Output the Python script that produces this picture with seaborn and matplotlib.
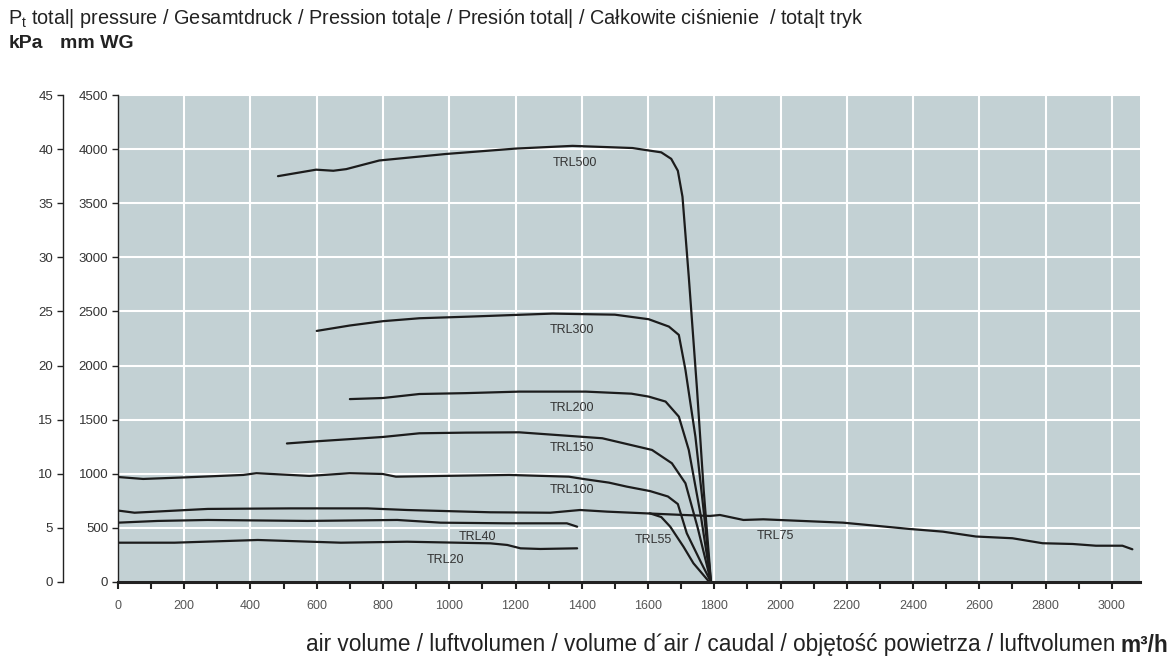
import matplotlib
matplotlib.use("Agg")
import numpy as np
import pandas as pd
import seaborn as sns
import matplotlib.pyplot as plt
from matplotlib.ticker import MultipleLocator

# curves: air volume (m3/h) vs total pressure (mm WG)
trl500_x = [483, 598, 650, 689, 789, 990, 1201, 1372, 1553, 1640, 1670, 1690, 1704, 1723, 1748, 1768, 1790]
trl500_y = [3750, 3810, 3800, 3815, 3895, 3955, 4005, 4030, 4010, 3970, 3910, 3800, 3560, 2820, 1775, 850, 0]
trl300_x = [600, 700, 800, 910, 1060, 1311, 1500, 1602, 1663, 1693, 1713, 1743, 1770, 1790]
trl300_y = [2320, 2370, 2410, 2437, 2452, 2480, 2470, 2428, 2360, 2283, 1959, 1343, 600, 0]
trl200_x = [700, 800, 910, 1050, 1211, 1412, 1550, 1602, 1653, 1693, 1723, 1760, 1790]
trl200_y = [1690, 1700, 1737, 1745, 1759, 1759, 1740, 1713, 1667, 1528, 1220, 600, 0]
trl150_x = [510, 600, 700, 800, 910, 1050, 1211, 1462, 1612, 1672, 1713, 1750, 1790]
trl150_y = [1280, 1300, 1320, 1340, 1374, 1380, 1383, 1328, 1220, 1097, 912, 500, 0]
trl100_x = [0, 76, 207, 378, 418, 578, 699, 799, 839, 980, 1181, 1361, 1411, 1482, 1536, 1606, 1660, 1690, 1717, 1760, 1790]
trl100_y = [970, 952, 967, 989, 1005, 980, 1005, 998, 973, 980, 989, 973, 949, 918, 881, 840, 790, 720, 450, 180, 0]
trl75_x = [0, 50, 271, 522, 753, 873, 1124, 1305, 1395, 1476, 1587, 1700, 1787, 1817, 1888, 1948, 2189, 2389, 2490, 2590, 2700, 2791, 2882, 2952, 3032, 3062]
trl75_y = [660, 640, 675, 680, 680, 665, 644, 640, 665, 650, 635, 620, 610, 619, 573, 579, 548, 490, 465, 420, 404, 358, 351, 335, 335, 302]
trl55_x = [1605, 1640, 1667, 1707, 1737, 1785]
trl55_y = [635, 600, 511, 326, 173, 0]
trl40_x = [0, 120, 271, 572, 843, 974, 1175, 1355, 1386]
trl40_y = [548, 564, 573, 564, 573, 548, 542, 542, 511]
trl20_x = [0, 171, 422, 673, 873, 1124, 1175, 1215, 1275, 1386]
trl20_y = [363, 363, 388, 363, 372, 357, 342, 311, 305, 311]

names = ["TRL500", "TRL300", "TRL200", "TRL150", "TRL100", "TRL75", "TRL55", "TRL40", "TRL20"]
xs = [trl500_x, trl300_x, trl200_x, trl150_x, trl100_x, trl75_x, trl55_x, trl40_x, trl20_x]
ys = [trl500_y, trl300_y, trl200_y, trl150_y, trl100_y, trl75_y, trl55_y, trl40_y, trl20_y]

# where the curve names sit
label_x = [1380, 1370, 1370, 1370, 1370, 1985, 1615, 1085, 990]
label_y = [3870, 2330, 1605, 1235, 850, 425, 390, 415, 205]

df = pd.concat([pd.DataFrame({"model": n, "airflow": x, "pressure": y}) for n, x, y in zip(names, xs, ys)])

sns.set_theme(style="darkgrid", rc={"axes.facecolor": "#c3d1d4", "grid.color": "white",
                                    "grid.linewidth": 1.5, "axes.edgecolor": "#222222"})
plt.rcParams["font.family"] = ["Liberation Sans", "DejaVu Sans"]

fig = plt.figure(figsize=(11.75, 6.57), dpi=100)
ax = fig.add_axes([0.1004, 0.1142, 0.8698, 0.7412])

for n in names:
    d = df[df["model"] == n]
    sns.lineplot(data=d, x="airflow", y="pressure", sort=False, estimator=None,
                 color="#1c1c1c", lw=1.6, ax=ax, solid_capstyle="round")

for n, lx, ly in zip(names, label_x, label_y):
    ax.text(lx, ly, n, fontsize=9, color="#333333", ha="center", va="center")

ax.set_xlim(0, 3085)
ax.set_ylim(0, 4500)
ax.xaxis.set_major_locator(MultipleLocator(200))
ax.xaxis.set_minor_locator(MultipleLocator(100))
ax.yaxis.set_major_locator(MultipleLocator(500))
ax.grid(which="minor", visible=False)
ax.set_xlabel("")
ax.set_ylabel("")
for s in ["top", "right"]:
    ax.spines[s].set_visible(False)
ax.spines["bottom"].set_linewidth(2.2)
ax.spines["left"].set_linewidth(1.0)
ax.tick_params(axis="x", which="both", bottom=True, direction="out", length=5, width=1.5,
               color="#222222", labelsize=9, labelcolor="#555555", pad=8)
ax.tick_params(axis="y", left=True, direction="out", length=4, width=1, color="#222222",
               labelsize=9.5, labelcolor="#333333", pad=3)

# kPa scale
ax2 = ax.twinx()
ax2.set_ylim(0, 45)
ax2.grid(False)
ax2.yaxis.set_major_locator(MultipleLocator(5))
ax2.yaxis.set_ticks_position("left")
ax2.yaxis.set_label_position("left")
for s in ["top", "right", "bottom"]:
    ax2.spines[s].set_visible(False)
ax2.spines["left"].set_visible(True)
ax2.spines["left"].set_position(("axes", -0.054))
ax2.spines["left"].set_linewidth(1.0)
ax2.spines["left"].set_color("#222222")
ax2.tick_params(axis="y", left=True, right=False, direction="out", length=4, width=1,
                color="#222222", labelsize=9.5, labelcolor="#333333", pad=3)

fig.text(0.007, 1 - 19 / 657, "P$_\\mathregular{t}$ total| pressure / Gesamtdruck / Pression tota|e / Presión total| / Całkowite ciśnienie  / tota|t tryk",
         fontsize=14.3, color="#222222", va="center", ha="left")
fig.text(0.007, 1 - 44 / 657, "kPa", fontsize=14, fontweight="bold", color="#222222",
         va="center", ha="left")
fig.text(60 / 1175, 1 - 44 / 657, "mm WG", fontsize=14, fontweight="bold", color="#222222",
         va="center", ha="left")

unit = fig.text(1168 / 1175, 1 - 645 / 657, "m³/h", fontsize=16.3, fontweight="bold",
                color="#222222", va="center", ha="right")
fig.canvas.draw()
bb = unit.get_window_extent()
fig.text((bb.x0 - 5) / 1175, 1 - 645 / 657,
         "air volume / luftvolumen / volume d´air / caudal / objętość powietrza / luftvolumen",
         fontsize=16.3, color="#222222", va="center", ha="right")

fig.savefig("out.png", dpi=100)
